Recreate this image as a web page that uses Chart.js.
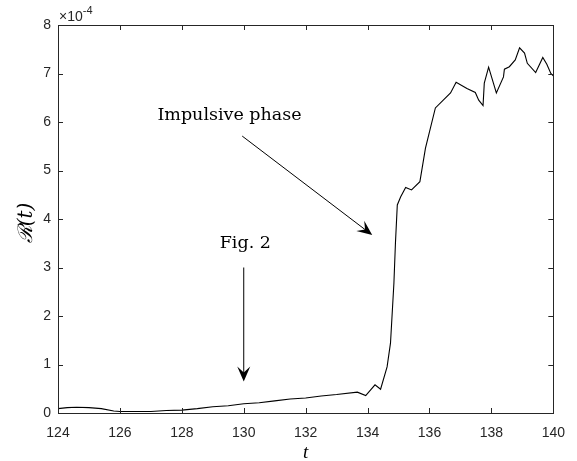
<!DOCTYPE html>
<html>
<head>
<meta charset="utf-8">
<script src="https://cdn.jsdelivr.net/npm/chart.js@4"></script>
<style>
  html, body { margin: 0; padding: 0; background: #fff; }
  #wrap { width: 577px; height: 461px; }
</style>
</head>
<body>
<div id="wrap"><canvas id="rChart" width="577" height="461"></canvas></div>
<script>
// tiempo t y R(t) en unidades de 1e-4
const tValues = [124.0, 124.3, 124.6, 125.0, 125.4, 125.8, 126.0, 126.5, 127.0, 127.5,
  128.0, 128.5, 129.0, 129.5, 130.0, 130.5, 131.0, 131.5, 132.0, 132.5,
  133.0, 133.67, 133.94, 134.24, 134.42, 134.63, 134.74, 134.85, 134.9, 134.96,
  135.07, 135.23, 135.42, 135.69, 135.87, 136.19, 136.68, 136.86, 137.21, 137.48,
  137.59, 137.73, 137.77, 137.91, 138.16, 138.39, 138.42, 138.58, 138.77, 138.91,
  139.07, 139.16, 139.43, 139.66, 139.79, 139.92, 140.0];
const rValues = [0.09, 0.11, 0.12, 0.11, 0.09, 0.04, 0.03, 0.03, 0.03, 0.05,
  0.06, 0.09, 0.13, 0.15, 0.19, 0.21, 0.25, 0.29, 0.31, 0.35,
  0.38, 0.43, 0.36, 0.58, 0.49, 0.95, 1.44, 2.67, 3.50, 4.29,
  4.46, 4.65, 4.60, 4.77, 5.46, 6.29, 6.60, 6.82, 6.69, 6.61,
  6.45, 6.34, 6.80, 7.13, 6.60, 6.93, 7.09, 7.14, 7.28, 7.53,
  7.42, 7.21, 7.02, 7.33, 7.19, 7.00, 6.95];

const xTicks = [124, 126, 128, 130, 132, 134, 136, 138, 140];
const yTicks = [0, 1, 2, 3, 4, 5, 6, 7, 8];

// anotaciones: texto y flecha (coordenadas de datos)
const notaTextos = ['Impulsive phase', 'Fig. 2'];
const notaTextoPos = [[129.54, 6.14], [130.05, 3.5]];
const flechaDesde = [[129.95, 5.71], [130.0, 3.0]];
const flechaHasta = [[134.15, 3.67], [130.0, 0.65]];

const ejeColor = '#262626';

function flecha(ctx, x1, y1, x2, y2) {
  const ang = Math.atan2(y2 - y1, x2 - x1);
  const largo = 15, ancho = 6.5;
  ctx.beginPath();
  ctx.moveTo(x1, y1);
  ctx.lineTo(x2 - Math.cos(ang) * 8, y2 - Math.sin(ang) * 8);
  ctx.stroke();
  const bx = x2 - Math.cos(ang) * largo, by = y2 - Math.sin(ang) * largo;
  const mx = x2 - Math.cos(ang) * largo * 0.6, my = y2 - Math.sin(ang) * largo * 0.6;
  const px = -Math.sin(ang) * ancho, py = Math.cos(ang) * ancho;
  ctx.beginPath();
  ctx.moveTo(x2, y2);
  ctx.lineTo(bx + px, by + py);
  ctx.lineTo(mx, my);
  ctx.lineTo(bx - px, by - py);
  ctx.closePath();
  ctx.fill();
}

const marcoPlugin = {
  id: 'marco',
  afterDatasetsDraw(chart) {
    const ctx = chart.ctx;
    const a = chart.chartArea;
    const xs = chart.scales.x, ys = chart.scales.y;
    ctx.save();
    ctx.strokeStyle = ejeColor;
    ctx.lineWidth = 1;
    ctx.strokeRect(Math.round(a.left) + 0.5, Math.round(a.top) + 0.5,
      Math.round(a.right - a.left), Math.round(a.bottom - a.top));
    ctx.beginPath();
    xTicks.forEach(v => {
      const px = Math.round(xs.getPixelForValue(v)) + 0.5;
      ctx.moveTo(px, a.bottom); ctx.lineTo(px, a.bottom - 5);
      ctx.moveTo(px, a.top); ctx.lineTo(px, a.top + 5);
    });
    yTicks.forEach(v => {
      const py = Math.round(ys.getPixelForValue(v)) + 0.5;
      ctx.moveTo(a.left, py); ctx.lineTo(a.left + 5, py);
      ctx.moveTo(a.right, py); ctx.lineTo(a.right - 5, py);
    });
    ctx.stroke();

    // exponente
    ctx.fillStyle = ejeColor;
    ctx.textBaseline = 'alphabetic';
    ctx.textAlign = 'left';
    ctx.font = '14px "Liberation Sans", Arial, sans-serif';
    ctx.fillText('\u00d710', a.left + 1, a.top - 4);
    const w = ctx.measureText('\u00d710').width;
    ctx.font = '11px "Liberation Sans", Arial, sans-serif';
    ctx.fillText('-4', a.left + 1 + w, a.top - 11);

    // etiquetas de ejes
    ctx.fillStyle = '#000';
    ctx.font = 'italic 19px "Liberation Serif", "DejaVu Serif", serif';
    ctx.textAlign = 'center';
    ctx.textBaseline = 'middle';
    ctx.fillText('t', (a.left + a.right) / 2, 453);
    ctx.save();
    ctx.translate(27, (a.top + a.bottom) / 2 + 4);
    ctx.rotate(-Math.PI / 2);
    ctx.font = 'italic 20px "DejaVu Serif", serif';
    ctx.fillText('\u211b(t)', 0, 0);
    ctx.restore();

    // anotaciones
    ctx.font = '17.5px "DejaVu Serif", serif';
    ctx.strokeStyle = '#000';
    ctx.fillStyle = '#000';
    notaTextos.forEach((txt, i) => {
      ctx.fillText(txt, xs.getPixelForValue(notaTextoPos[i][0]), ys.getPixelForValue(notaTextoPos[i][1]));
      flecha(ctx,
        xs.getPixelForValue(flechaDesde[i][0]), ys.getPixelForValue(flechaDesde[i][1]),
        xs.getPixelForValue(flechaHasta[i][0]), ys.getPixelForValue(flechaHasta[i][1]));
    });
    ctx.restore();
  }
};

new Chart(document.getElementById('rChart').getContext('2d'), {
  type: 'scatter',
  data: {
    datasets: [{
      label: 'R(t)',
      data: tValues.map((t, i) => ({ x: t, y: rValues[i] })),
      showLine: true,
      borderColor: '#000',
      borderWidth: 1.1,
      pointRadius: 0,
      tension: 0
    }]
  },
  options: {
    responsive: false,
    animation: false,
    layout: { padding: { top: 25, right: 22, left: 0, bottom: 0 } },
    plugins: { legend: { display: false }, tooltip: { enabled: false } },
    scales: {
      x: {
        type: 'linear', min: 124, max: 140,
        afterBuildTicks: s => { s.ticks = xTicks.map(v => ({ value: v })); },
        afterFit: s => { s.height = 48; },
        grid: { display: false, drawTicks: false },
        border: { display: false },
        ticks: { color: ejeColor, padding: 12, font: { family: '"Liberation Sans", Arial, sans-serif', size: 14 } }
      },
      y: {
        type: 'linear', min: 0, max: 8,
        afterBuildTicks: s => { s.ticks = yTicks.map(v => ({ value: v })); },
        afterFit: s => { s.width = 58; },
        grid: { display: false, drawTicks: false },
        border: { display: false },
        ticks: { color: ejeColor, padding: 7, font: { family: '"Liberation Sans", Arial, sans-serif', size: 14 } }
      }
    }
  },
  plugins: [marcoPlugin]
});
</script>
</body>
</html>
